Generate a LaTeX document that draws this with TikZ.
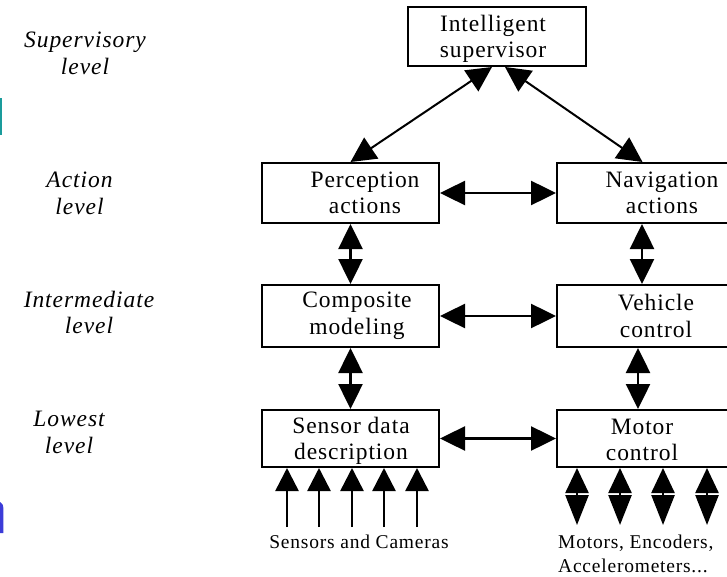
\documentclass[tikz,border=0pt]{standalone}
\usepackage{fontspec}
\setmainfont{Liberation Serif}[LetterSpace=4.0]
\usetikzlibrary{arrows.meta}
\definecolor{tealbar}{HTML}{1A9C9C}
\definecolor{bluemark}{HTML}{3C3CD8}
\begin{document}
\begin{tikzpicture}[x=1pt,y=-1pt,
  box/.style={draw, line width=2pt, minimum width=177pt, inner sep=0pt},
  txt/.style={align=center, inner sep=0pt, font=\fontsize{23.5}{26.5}\selectfont},
  lvl/.style={align=center, inner sep=0pt, font=\fontsize{23.5}{26.5}\selectfont\itshape},
  captxt/.style={align=left, inner sep=0pt, font=\fontsize{19.5}{24}\selectfont},
  bi/.style={{Triangle[length=25pt,width=24pt]}-{Triangle[length=25pt,width=24pt]}, line width=2.5pt},
  diag/.style={{Triangle[length=25pt,width=25pt]}-{Triangle[length=25pt,width=25pt]}, line width=2pt},
  upin/.style={-{Triangle[length=23pt,width=23pt]}, line width=2.5pt},
  mout/.style={{Triangle[length=25pt,width=23pt]}-{Triangle[length=30pt,width=23pt]}, line width=2.5pt}
]
\useasboundingbox (0,0) rectangle (727,577);
\clip (0,0) rectangle (727,577);

% slide remnants at left edge
\fill[tealbar] (0,98) rectangle (1.7,135);
\fill[bluemark] (0,502) .. controls (2,502.5) and (3.4,505) .. (3.4,509) -- (3.4,533) -- (0,533) -- cycle;

% level labels
\node[lvl] (l1) at (85,53.5) {Supervisory\\level};
\node[lvl] (l2) at (79.5,193.5) {Action\\level};
\node[lvl] (l3) at (89,312.5) {Intermediate\\level};
\node[lvl] (l4) at (69,432.5) {Lowest\\level};

% boxes
\node[box, minimum width=178pt, minimum height=59pt] (sup) at (497,36.5) {};
\node[box, minimum height=60pt] (perc) at (350.5,193) {};
\node[box, minimum height=60pt] (nav) at (645.5,193) {};
\node[box, minimum height=62pt] (comp) at (350.5,316) {};
\node[box, minimum height=62pt] (veh) at (645.5,316) {};
\node[box, minimum height=57pt] (sens) at (350.5,438.5) {};
\node[box, minimum height=57pt] (mot) at (645.5,438.5) {};

% box texts
\node[txt] (supt) at (493,39) {Intelligent\\supervisor};
\node[txt] (perct) at (365,193) {Perception\\actions};
\node[txt] (navt) at (662,193) {Navigation\\actions};
\node[txt] (compt) at (357,316) {Composite\\modeling};
\node[txt] (veht) at (656,316) {Vehicle\\control};
\node[txt] (senst) at (351,441) {Sensor data\\description};
\node[txt] (mott) at (642,440) {Motor\\control};

% connectors
\draw[diag] (perc.north) -- ([xshift=-5pt]sup.south);
\draw[diag] ([xshift=8pt]sup.south) -- ([xshift=-3pt]nav.north);
\draw[bi] (perc.east) -- (nav.west);
\draw[bi] (comp.east) -- (veh.west);
\draw[bi] (sens.east) -- (mot.west);
\draw[bi] (perc.south) -- (comp.north);
\draw[bi] (comp.south) -- (sens.north);
\draw[bi] ([xshift=-3.5pt]nav.south) -- ([xshift=-3.5pt]veh.north);
\draw[bi] ([xshift=-7.5pt]veh.south) -- ([xshift=-7.5pt]mot.north);

% sensor inputs
\coordinate (s1) at (287,527);
\coordinate (s2) at (319,527);
\coordinate (s3) at (352,527);
\coordinate (s4) at (384,527);
\coordinate (s5) at (417,527);
\foreach \s in {s1,s2,s3,s4,s5} \draw[upin] (\s) -- (\s |- sens.south);

% motor outputs
\coordinate (m1) at (577,525);
\coordinate (m2) at (620,525);
\coordinate (m3) at (663,525);
\coordinate (m4) at (707,525);
\foreach \m in {m1,m2,m3,m4} \draw[mout] (\m |- mot.south) -- (\m);

% bottom captions
\node[captxt, anchor=base] (scap) at (359,548) {Sensors and Cameras};
\node[captxt, anchor=north west] (mcap) at (558,535) {Motors, Encoders,\\Accelerometers...};
\end{tikzpicture}
\end{document}
